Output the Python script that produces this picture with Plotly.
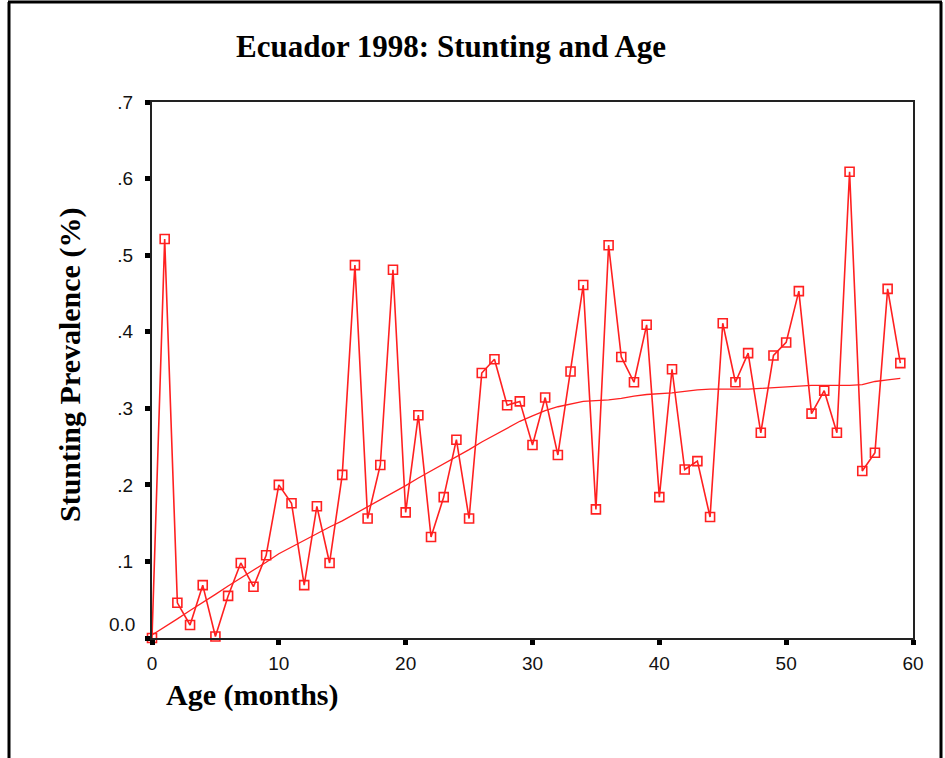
import plotly.graph_objects as go

ages = list(range(60))
prevalence = [0.000, 0.521, 0.046, 0.017, 0.069, 0.002, 0.055, 0.098, 0.067, 0.108,
              0.200, 0.176, 0.069, 0.172, 0.098, 0.213, 0.487, 0.156, 0.226, 0.481,
              0.164, 0.291, 0.132, 0.184, 0.259, 0.156, 0.346, 0.364, 0.304, 0.309,
              0.252, 0.314, 0.239, 0.348, 0.461, 0.168, 0.513, 0.367, 0.334, 0.409,
              0.184, 0.351, 0.220, 0.231, 0.158, 0.411, 0.334, 0.372, 0.268, 0.369,
              0.386, 0.453, 0.293, 0.323, 0.268, 0.609, 0.218, 0.242, 0.456, 0.359]
trend = [0.004, 0.014, 0.025, 0.036, 0.046, 0.057, 0.068, 0.078, 0.089, 0.099,
         0.110, 0.119, 0.127, 0.136, 0.145, 0.153, 0.162, 0.172, 0.181, 0.190,
         0.199, 0.209, 0.218, 0.227, 0.237, 0.246, 0.256, 0.265, 0.274, 0.283,
         0.290, 0.297, 0.302, 0.306, 0.309, 0.310, 0.311, 0.313, 0.316, 0.318,
         0.319, 0.320, 0.322, 0.324, 0.325, 0.325, 0.325, 0.325, 0.326, 0.327,
         0.328, 0.329, 0.330, 0.330, 0.330, 0.330, 0.331, 0.335, 0.337, 0.339]

x_ticks = [0, 10, 20, 30, 40, 50, 60]
y_ticks = [0.0, 0.1, 0.2, 0.3, 0.4, 0.5, 0.6, 0.7]
y_tick_text = ["", ".1", ".2", ".3", ".4", ".5", ".6", ".7"]
zero_label = "0.0"

RED = "#ff2020"

# plot-area pixel geometry
L, R, T, B = 152, 913, 102, 638
PW, PH = R - L, B - T


def px(x):
    return (x - L) / PW


def py(y):
    return (B - y) / PH


fig = go.Figure()
fig.add_trace(go.Scatter(
    x=ages, y=trend, mode="lines",
    line=dict(color=RED, width=1.3), cliponaxis=False, hoverinfo="skip"))
fig.add_trace(go.Scatter(
    x=ages, y=prevalence, mode="lines+markers",
    line=dict(color=RED, width=1.6),
    marker=dict(symbol="square-open", size=9, color=RED, line=dict(width=1.6, color=RED)),
    cliponaxis=False))

serif = "Liberation Serif, Times New Roman, serif"
sans = "Liberation Sans, Arial, sans-serif"

fig.update_layout(
    width=945, height=758,
    margin=dict(l=L, r=945 - R, t=T, b=758 - B),
    paper_bgcolor="white", plot_bgcolor="white",
    showlegend=False,
    xaxis=dict(range=[0, 60], tickvals=x_ticks, showgrid=False, zeroline=False,
               showline=True, linecolor="#222", linewidth=2, mirror=True,
               ticks="outside", ticklen=5, tickwidth=5, tickcolor="black",
               ticklabelstandoff=2,
               tickfont=dict(family=sans, size=19, color="#111")),
    yaxis=dict(range=[0, 0.7], tickvals=y_ticks, ticktext=y_tick_text,
               showgrid=False, zeroline=False,
               showline=True, linecolor="#222", linewidth=2, mirror=True,
               ticks="outside", ticklen=5, tickwidth=5, tickcolor="black",
               ticklabelstandoff=8,
               tickfont=dict(family=sans, size=19, color="#111")),
    annotations=[
        dict(text="<b>Ecuador 1998: Stunting and Age</b>", xref="paper", yref="paper",
             x=px(451), y=py(47), xanchor="center", yanchor="middle",
             showarrow=False, font=dict(family=serif, size=31, color="black")),
        dict(text="<b>Stunting Prevalence (%)</b>", xref="paper", yref="paper",
             x=px(70), y=py(365), xanchor="center", yanchor="middle",
             textangle=-90, showarrow=False, font=dict(family=serif, size=30, color="black")),
        dict(text="<b>Age (months)</b>", xref="paper", yref="paper",
             x=px(252), y=py(695), xanchor="center", yanchor="middle",
             showarrow=False, font=dict(family=serif, size=30, color="black")),
        dict(text=zero_label, xref="paper", yref="paper",
             x=px(137), y=py(624), xanchor="right", yanchor="middle",
             showarrow=False, font=dict(family=sans, size=19, color="#111")),
    ],
    shapes=[
        dict(type="line", xref="paper", yref="paper", x0=px(8), x1=px(942),
             y0=py(2), y1=py(2), line=dict(color="black", width=3)),
        dict(type="line", xref="paper", yref="paper", x0=px(9), x1=px(9),
             y0=py(2), y1=py(780), line=dict(color="black", width=3)),
        dict(type="line", xref="paper", yref="paper", x0=px(941), x1=px(941),
             y0=py(2), y1=py(780), line=dict(color="black", width=3)),
    ],
)

fig.write_html("out.html", config={"displayModeBar": False},
               post_script="document.body.style.margin='0';")
